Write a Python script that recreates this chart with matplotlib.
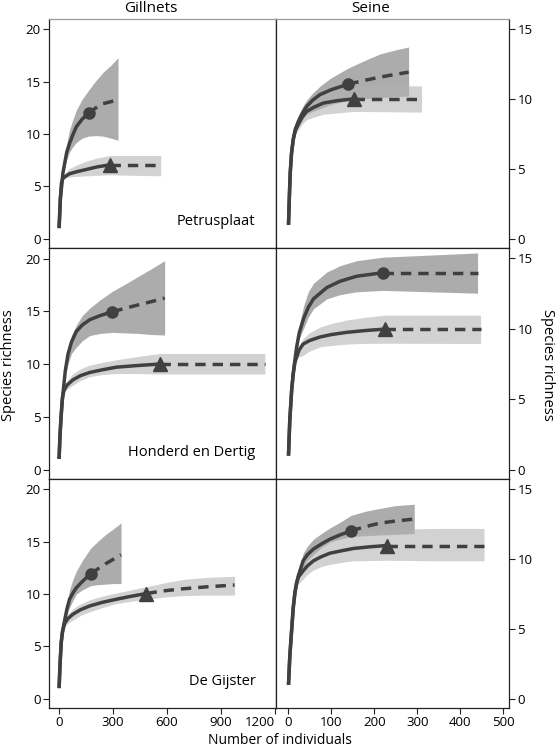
import matplotlib.pyplot as plt

plt.rcParams['font.family'] = ['Open Sans', 'DejaVu Sans']

# ---- data ----
# each series: x (number of individuals), y (species richness), lower/upper CI,
# obs = observed sample size (marker); beyond obs the curve is extrapolated (dashed)

# Petrusplaat, gillnets
pg_c_x = [1, 8, 17, 22, 32, 44, 59, 78, 97, 128, 165, 205, 245, 290, 328]
pg_c_y = [1, 3.8, 5.3, 6.25, 7.2, 8.3, 9.1, 9.95, 10.7, 11.4, 12.0, 12.5, 12.9, 13.1, 13.3]
pg_c_lo = [1, 3.8, 5.2, 6.0, 6.8, 7.6, 8.3, 8.8, 9.2, 9.6, 9.8, 9.85, 9.8, 9.6, 9.4]
pg_c_hi = [1, 3.8, 5.4, 6.5, 7.7, 9.1, 10.4, 11.4, 12.3, 13.3, 14.2, 15.1, 15.9, 16.6, 17.3]
pg_c_obs = 165
pg_t_x = [1, 8, 14, 20, 25, 40, 59, 100, 150, 210, 282, 420, 565]
pg_t_y = [1, 3.8, 5.3, 5.65, 5.8, 6.0, 6.2, 6.4, 6.6, 6.85, 7.05, 7.05, 7.05]
pg_t_lo = [1, 3.8, 5.2, 5.55, 5.7, 5.8, 5.9, 5.95, 6.0, 6.05, 6.1, 6.05, 6.0]
pg_t_hi = [1, 3.8, 5.4, 5.8, 6.0, 6.35, 6.7, 7.05, 7.4, 7.7, 7.95, 7.95, 7.95]
pg_t_obs = 282

# Petrusplaat, seine
ps_c_x = [1, 3, 5, 8, 12, 17, 24, 33, 43, 57, 74, 100, 140, 175, 213, 250, 280]
ps_c_y = [1, 3.0, 4.7, 6.1, 7.1, 7.85, 8.4, 8.95, 9.45, 9.9, 10.3, 10.65, 11.05, 11.3, 11.55, 11.75, 11.9]
ps_c_lo = [1, 3.0, 4.7, 6.0, 7.0, 7.6, 8.0, 8.5, 8.9, 9.1, 9.3, 9.6, 9.9, 10.0, 10.1, 10.15, 10.2]
ps_c_hi = [1, 3.0, 4.7, 6.2, 7.2, 8.1, 8.8, 9.4, 9.9, 10.4, 10.9, 11.5, 12.2, 12.7, 13.2, 13.5, 13.7]
ps_c_obs = 140
ps_t_x = [1, 3, 5, 8, 12, 17, 24, 33, 43, 60, 82, 115, 153, 230, 310]
ps_t_y = [1, 3.0, 4.7, 6.1, 7.1, 7.75, 8.2, 8.7, 9.1, 9.4, 9.7, 9.87, 10.0, 10.0, 10.0]
ps_t_lo = [1, 3.0, 4.7, 6.0, 7.0, 7.5, 7.8, 8.2, 8.5, 8.7, 8.9, 9.0, 9.1, 9.08, 9.05]
ps_t_hi = [1, 3.0, 4.7, 6.2, 7.2, 8.0, 8.8, 9.3, 9.7, 10.0, 10.3, 10.6, 10.93, 10.93, 10.93]
ps_t_obs = 153

# Honderd en Dertig, gillnets
hg_c_x = [1, 6, 12, 18, 25, 35, 50, 70, 97, 130, 171, 230, 297, 370, 439, 510, 587]
hg_c_y = [1, 3.2, 5.0, 6.5, 7.6, 9.3, 10.9, 12.1, 13.1, 13.7, 14.2, 14.6, 14.95, 15.3, 15.6, 15.9, 16.25]
hg_c_lo = [1, 3.2, 5.0, 6.5, 7.6, 9.0, 10.0, 11.0, 11.6, 12.2, 12.7, 12.9, 13.0, 12.95, 12.9, 12.8, 12.75]
hg_c_hi = [1, 3.2, 5.0, 6.5, 7.6, 9.6, 11.3, 12.7, 13.7, 14.6, 15.3, 16.1, 16.9, 17.6, 18.3, 19.0, 19.8]
hg_c_obs = 297
hg_t_x = [1, 6, 12, 20, 28, 45, 78, 120, 171, 240, 319, 430, 560, 850, 1143]
hg_t_y = [1, 3.2, 5.0, 6.8, 7.5, 8.0, 8.5, 8.9, 9.2, 9.45, 9.7, 9.85, 10.0, 10.0, 10.0]
hg_t_lo = [1, 3.2, 5.0, 6.7, 7.3, 7.6, 8.0, 8.45, 8.8, 9.0, 9.1, 9.1, 9.05, 9.05, 9.05]
hg_t_hi = [1, 3.2, 5.0, 6.9, 7.7, 8.4, 9.1, 9.55, 9.9, 10.15, 10.4, 10.7, 11.0, 11.0, 11.0]
hg_t_obs = 560

# Honderd en Dertig, seine
hs_c_x = [1, 4, 8.5, 12, 16, 20, 26, 36, 47, 59, 90, 121, 159, 220, 330, 440]
hs_c_y = [1, 3.5, 5.7, 6.8, 7.8, 8.7, 9.7, 10.7, 11.5, 12.1, 12.9, 13.35, 13.7, 13.95, 13.95, 13.95]
hs_c_lo = [1, 3.5, 5.7, 6.8, 7.8, 8.6, 9.3, 10.0, 10.8, 11.4, 12.1, 12.4, 12.6, 12.7, 12.6, 12.5]
hs_c_hi = [1, 3.5, 5.7, 6.8, 7.8, 8.9, 10.2, 11.6, 12.6, 13.2, 14.0, 14.45, 14.8, 15.05, 15.2, 15.35]
hs_c_obs = 220
hs_t_x = [1, 4, 8.5, 12, 16, 20, 26, 35, 50, 74, 100, 136, 180, 225, 335, 447]
hs_t_y = [1, 3.5, 5.7, 6.8, 7.6, 8.0, 8.5, 8.9, 9.15, 9.4, 9.57, 9.73, 9.86, 9.96, 9.96, 9.96]
hs_t_lo = [1, 3.5, 5.7, 6.8, 7.6, 7.8, 8.0, 8.1, 8.4, 8.7, 8.8, 8.9, 8.95, 8.96, 8.95, 8.94]
hs_t_hi = [1, 3.5, 5.7, 6.8, 7.6, 8.2, 8.8, 9.3, 9.7, 10.1, 10.35, 10.6, 10.8, 10.95, 10.95, 10.95]
hs_t_obs = 225

# De Gijster, gillnets
dg_c_x = [1, 6, 13, 20, 32, 45, 59, 78, 97, 130, 177, 220, 260, 300, 345]
dg_c_y = [1, 3.2, 5.4, 6.4, 7.5, 8.6, 9.5, 10.1, 10.6, 11.2, 11.93, 12.45, 12.9, 13.3, 13.75]
dg_c_lo = [1, 3.2, 5.4, 6.3, 7.3, 8.1, 8.7, 9.4, 10.0, 10.4, 10.8, 10.9, 10.95, 11.0, 11.0]
dg_c_hi = [1, 3.2, 5.4, 6.5, 7.7, 9.1, 10.4, 11.4, 12.2, 13.2, 14.4, 15.1, 15.7, 16.2, 16.8]
dg_c_obs = 177
dg_t_x = [1, 6, 13, 20, 32, 50, 78, 120, 171, 240, 319, 400, 486, 580, 689, 830, 975]
dg_t_y = [1, 3.2, 5.4, 6.4, 7.2, 7.65, 8.07, 8.5, 8.86, 9.2, 9.5, 9.78, 10.05, 10.3, 10.5, 10.7, 10.86]
dg_t_lo = [1, 3.2, 5.4, 6.3, 6.9, 7.2, 7.5, 7.95, 8.3, 8.7, 9.1, 9.3, 9.5, 9.7, 9.85, 9.9, 9.9]
dg_t_hi = [1, 3.2, 5.4, 6.5, 7.6, 8.1, 8.6, 9.05, 9.45, 9.8, 10.1, 10.4, 10.7, 11.05, 11.4, 11.6, 11.7]
dg_t_obs = 486

# De Gijster, seine
ds_c_x = [1, 4, 8.5, 12, 16, 20, 24, 35, 45, 59, 77, 97, 120, 146, 180, 213, 250, 293]
ds_c_y = [1, 3.0, 5.0, 6.5, 7.6, 8.3, 8.8, 9.86, 10.3, 10.7, 11.05, 11.4, 11.7, 12.0, 12.3, 12.55, 12.7, 12.84]
ds_c_lo = [1, 3.0, 5.0, 6.5, 7.6, 8.2, 8.6, 9.4, 9.9, 10.3, 10.8, 11.2, 11.4, 11.6, 11.65, 11.7, 11.75, 11.8]
ds_c_hi = [1, 3.0, 5.0, 6.5, 7.6, 8.5, 9.1, 10.4, 10.9, 11.4, 11.8, 12.2, 12.6, 13.1, 13.4, 13.6, 13.8, 13.9]
ds_c_obs = 146
ds_t_x = [1, 4, 8.5, 12, 16, 20, 24, 35, 45, 59, 77, 97, 125, 152, 190, 229, 340, 455]
ds_t_y = [1, 3.0, 5.0, 6.5, 7.6, 8.3, 8.7, 9.14, 9.5, 9.86, 10.15, 10.4, 10.58, 10.74, 10.86, 10.95, 10.95, 10.95]
ds_t_lo = [1, 3.0, 5.0, 6.5, 7.5, 8.0, 8.2, 8.55, 8.9, 9.2, 9.45, 9.6, 9.75, 9.86, 9.88, 9.9, 9.86, 9.86]
ds_t_hi = [1, 3.0, 5.0, 6.5, 7.7, 8.5, 9.0, 10.1, 10.5, 10.9, 11.2, 11.4, 11.6, 11.8, 11.95, 12.1, 12.17, 12.17]
ds_t_obs = 229

sites = ['Petrusplaat', 'Honderd en Dertig', 'De Gijster']
gears = ['Gillnets', 'Seine']
left_xticks = [0, 300, 600, 900, 1200]
right_xticks = [0, 100, 200, 300, 400, 500]
left_yticks = [0, 5, 10, 15, 20]
right_yticks = [0, 5, 10, 15]

panels = [
    [[(pg_c_x, pg_c_y, pg_c_lo, pg_c_hi, pg_c_obs), (pg_t_x, pg_t_y, pg_t_lo, pg_t_hi, pg_t_obs)],
     [(ps_c_x, ps_c_y, ps_c_lo, ps_c_hi, ps_c_obs), (ps_t_x, ps_t_y, ps_t_lo, ps_t_hi, ps_t_obs)]],
    [[(hg_c_x, hg_c_y, hg_c_lo, hg_c_hi, hg_c_obs), (hg_t_x, hg_t_y, hg_t_lo, hg_t_hi, hg_t_obs)],
     [(hs_c_x, hs_c_y, hs_c_lo, hs_c_hi, hs_c_obs), (hs_t_x, hs_t_y, hs_t_lo, hs_t_hi, hs_t_obs)]],
    [[(dg_c_x, dg_c_y, dg_c_lo, dg_c_hi, dg_c_obs), (dg_t_x, dg_t_y, dg_t_lo, dg_t_hi, dg_t_obs)],
     [(ds_c_x, ds_c_y, ds_c_lo, ds_c_hi, ds_c_obs), (ds_t_x, ds_t_y, ds_t_lo, ds_t_hi, ds_t_obs)]],
]

# styles: circle series darker band, triangle series lighter band
band_style = [('#7a7a7a', 0.62), ('#b2b2b2', 0.58)]
markers = [('o', 8), ('^', 10)]
line_col = '#404040'

W, H = 556, 748
fig = plt.figure(figsize=(W / 100, H / 100), dpi=100)

col_px = [49, 276, 509]
row_px = [19, 248, 479, 708]

for r in range(3):
    for c in range(2):
        x0 = col_px[c] / W
        x1 = col_px[c + 1] / W
        y1 = 1 - row_px[r] / H
        y0 = 1 - row_px[r + 1] / H
        ax = fig.add_axes([x0, y0, x1 - x0, y1 - y0])

        for k, (x, y, lo, hi, obs) in enumerate(panels[r][c]):
            col, a = band_style[k]
            ax.fill_between(x, lo, hi, color=col, alpha=a, lw=0, zorder=1)
            i = x.index(obs)
            ax.plot(x[:i + 1], y[:i + 1], color=line_col, lw=2.5,
                    solid_capstyle='butt', solid_joinstyle='round', zorder=3)
            ax.plot(x[i:], y[i:], color=line_col, lw=2.5,
                    linestyle=(0, (3, 2)), zorder=3)
            m, ms = markers[k]
            ax.plot([x[i]], [y[i]], marker=m, ms=ms, color=line_col,
                    lw=0, zorder=4)

        for s in ax.spines.values():
            s.set_linewidth(0.9)
            s.set_color('#222222')
        if r == 0:
            ax.spines['top'].set_color('#999999')

        if c == 0:
            ax.set_xlim(-55, 1205)
            ax.set_ylim(-0.9, 21.0)
            ax.set_yticks(left_yticks)
            ax.set_xticks(left_xticks, labels=[str(v) for v in left_xticks])
            ax.get_xticklabels()[-1].set_horizontalalignment('right')
            ax.tick_params(axis='y', left=True, right=False, labelleft=True,
                           labelright=False)
            ax.text(0.91, 0.115, sites[r], transform=ax.transAxes,
                    ha='right', va='center', fontsize=10.5)
        else:
            ax.set_xlim(-28, 513)
            ax.set_ylim(-0.65, 15.7)
            ax.set_yticks(right_yticks)
            ax.set_xticks(right_xticks)
            ax.tick_params(axis='y', left=False, right=True, labelleft=False,
                           labelright=True)
        ax.tick_params(labelsize=9.5, length=4, width=0.8, color='#222222',
                       pad=2)
        if r < 2:
            ax.tick_params(axis='x', bottom=False, labelbottom=False)

fig.text(151 / W, 1 - 9 / H, gears[0], ha='center', va='center', fontsize=11)
fig.text(371 / W, 1 - 9 / H, gears[1], ha='center', va='center', fontsize=11)
fig.text(9 / W, 1 - 365 / H, 'Species richness', rotation=90,
         ha='center', va='center', fontsize=10.5)
fig.text(547 / W, 1 - 365 / H, 'Species richness', rotation=270,
         ha='center', va='center', fontsize=10.5)
fig.text(280 / W, 1 - 740 / H, 'Number of individuals', ha='center',
         va='center', fontsize=10)

fig.savefig('out.png', dpi=100)
